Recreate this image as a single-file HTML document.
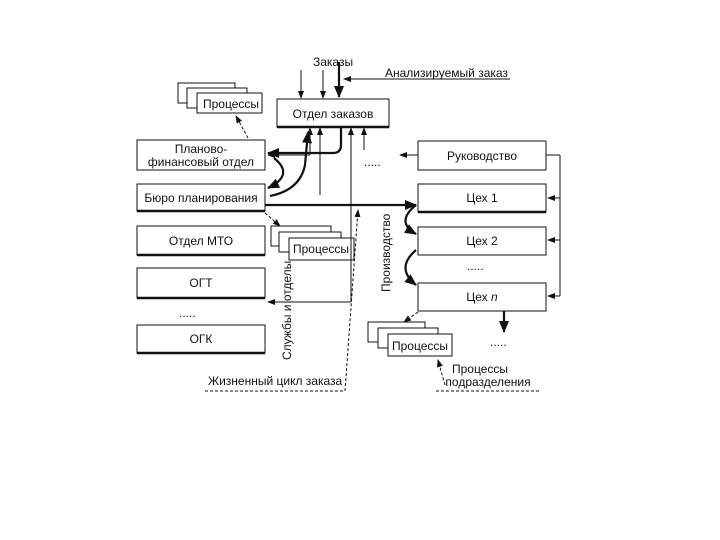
<!DOCTYPE html>
<html><head><meta charset="utf-8"><style>
html,body{margin:0;padding:0;background:#fff}
svg{display:block}
text{font-family:"Liberation Sans",sans-serif;font-size:12px;fill:#111}
</style></head><body>
<svg width="720" height="540" viewBox="0 0 720 540" xmlns="http://www.w3.org/2000/svg">
<defs>
<marker id="a" markerWidth="8" markerHeight="8" refX="7" refY="4" orient="auto" markerUnits="userSpaceOnUse"><path d="M0,1 L8,4 L0,7z" fill="#111"/></marker>
<marker id="b" markerWidth="12" markerHeight="12" refX="11" refY="6" orient="auto" markerUnits="userSpaceOnUse"><path d="M0,1 L12,6 L0,11z" fill="#111"/></marker>
</defs>
<g fill="#fff" stroke="#111" stroke-width="1">
<rect x="137" y="140" width="128" height="30"/>
<rect x="137" y="184" width="128" height="27"/>
<rect x="137" y="226" width="128" height="29"/>
<rect x="137" y="268" width="128" height="30"/>
<rect x="137" y="325" width="128" height="28"/>
<rect x="277" y="99" width="112" height="28"/>
<rect x="418" y="141" width="128" height="29"/>
<rect x="418" y="184" width="128" height="28"/>
<rect x="418" y="227" width="128" height="28"/>
<rect x="418" y="283" width="128" height="28"/>
<rect x="178" y="83" width="57" height="20"/>
<rect x="187" y="88" width="60" height="20"/>
<rect x="197" y="93" width="65" height="20"/>
<rect x="271" y="226" width="60" height="20"/>
<rect x="279" y="232" width="62" height="20"/>
<rect x="289" y="238" width="65" height="22"/>
<rect x="368" y="322" width="57" height="20"/>
<rect x="378" y="328" width="60" height="20"/>
<rect x="388" y="334" width="64" height="22"/>
</g>
<g stroke="#111" stroke-width="2.5" fill="none">
<line x1="137" y1="211" x2="265" y2="211"/><line x1="137" y1="255" x2="265" y2="255"/><line x1="137" y1="298" x2="265" y2="298"/><line x1="137" y1="353" x2="265" y2="353"/><line x1="277" y1="127" x2="389" y2="127"/><line x1="418" y1="212" x2="546" y2="212"/>
</g>
<g font-size="12">
<text x="203" y="108">Процессы</text>
<text x="293" y="253">Процессы</text>
<text x="392" y="350">Процессы</text>
<text x="333" y="118" text-anchor="middle">Отдел заказов</text>
<text x="201" y="153" text-anchor="middle">Планово-</text>
<text x="201" y="166" text-anchor="middle">финансовый отдел</text>
<text x="201" y="202" text-anchor="middle">Бюро планирования</text>
<text x="201" y="245" text-anchor="middle">Отдел МТО</text>
<text x="201" y="287" text-anchor="middle">ОГТ</text>
<text x="201" y="343" text-anchor="middle">ОГК</text>
<text x="482" y="160" text-anchor="middle">Руководство</text>
<text x="482" y="202" text-anchor="middle">Цех 1</text>
<text x="482" y="245" text-anchor="middle">Цех 2</text>
<text x="482" y="301" text-anchor="middle">Цех <tspan font-style="italic">n</tspan></text>
<text x="313" y="66">Заказы</text>
<text x="385" y="77">Анализируемый заказ</text>
<text x="208" y="385">Жизненный цикл заказа</text>
<text x="480" y="373" text-anchor="middle">Процессы</text>
<text x="488" y="386" text-anchor="middle">подразделения</text>
<text x="364" y="166">.....</text>
<text x="179" y="317">.....</text>
<text x="467" y="270">.....</text>
<text x="490" y="346">.....</text>
<text transform="translate(291,360) rotate(-90)">Службы  и отделы</text>
<text transform="translate(390,292) rotate(-90)">Производство</text>
</g>
<g stroke="#111" stroke-width="1" fill="none">
<line x1="301" y1="70" x2="301" y2="98" marker-end="url(#a)"/>
<line x1="323" y1="70" x2="323" y2="98" marker-end="url(#a)"/>
<line x1="510" y1="79" x2="344" y2="79" marker-end="url(#a)"/>
<line x1="270" y1="155" x2="310" y2="155" /><line x1="310" y1="155" x2="310" y2="128" marker-end="url(#a)"/>
<line x1="310" y1="155" x2="268" y2="155" marker-end="url(#a)"/>
<line x1="320" y1="195" x2="320" y2="128" marker-end="url(#a)"/>
<line x1="351" y1="302" x2="351" y2="128" marker-end="url(#a)"/>
<line x1="351" y1="302" x2="268" y2="302" marker-end="url(#a)"/>
<line x1="364" y1="150" x2="364" y2="128" marker-end="url(#a)"/>
<line x1="418" y1="155" x2="400" y2="155" marker-end="url(#a)"/>
<line x1="546" y1="155" x2="560" y2="155"/><line x1="560" y1="155" x2="560" y2="296"/>
<line x1="560" y1="198" x2="548" y2="198" marker-end="url(#a)"/>
<line x1="560" y1="240" x2="548" y2="240" marker-end="url(#a)"/>
<line x1="560" y1="296" x2="548" y2="296" marker-end="url(#a)"/>
</g>
<g stroke="#111" stroke-width="1" fill="none" stroke-dasharray="3,2">
<line x1="248" y1="138" x2="236" y2="116" marker-end="url(#a)"/>
<line x1="265" y1="213" x2="280" y2="226" marker-end="url(#a)"/>
<line x1="418" y1="312" x2="404" y2="322" marker-end="url(#a)"/>
<line x1="445" y1="385" x2="438" y2="360" marker-end="url(#a)"/>
<polyline points="205,391 345,391 358,210" marker-end="url(#a)"/>
<line x1="436" y1="391" x2="540" y2="391"/>
</g>
<g stroke="#111" stroke-width="2.2" fill="none">
<line x1="339" y1="62" x2="339" y2="97" marker-end="url(#b)"/>
<path d="M341,128 L341,145 Q341,153 333,153 L268,153" marker-end="url(#b)"/>
<line x1="265" y1="205" x2="416" y2="205" marker-end="url(#b)"/>
<path d="M274,158 Q295,175 268,188" marker-end="url(#b)"/>
<path d="M270,196 Q300,190 305,165 L308,132" marker-end="url(#b)"/>
<path d="M416,205 Q395,222 416,234" marker-end="url(#b)"/>
<path d="M416,250 Q395,268 416,285" marker-end="url(#b)"/>
<line x1="504" y1="311" x2="504" y2="332" marker-end="url(#b)"/>
</g>
</svg>
</body></html>
